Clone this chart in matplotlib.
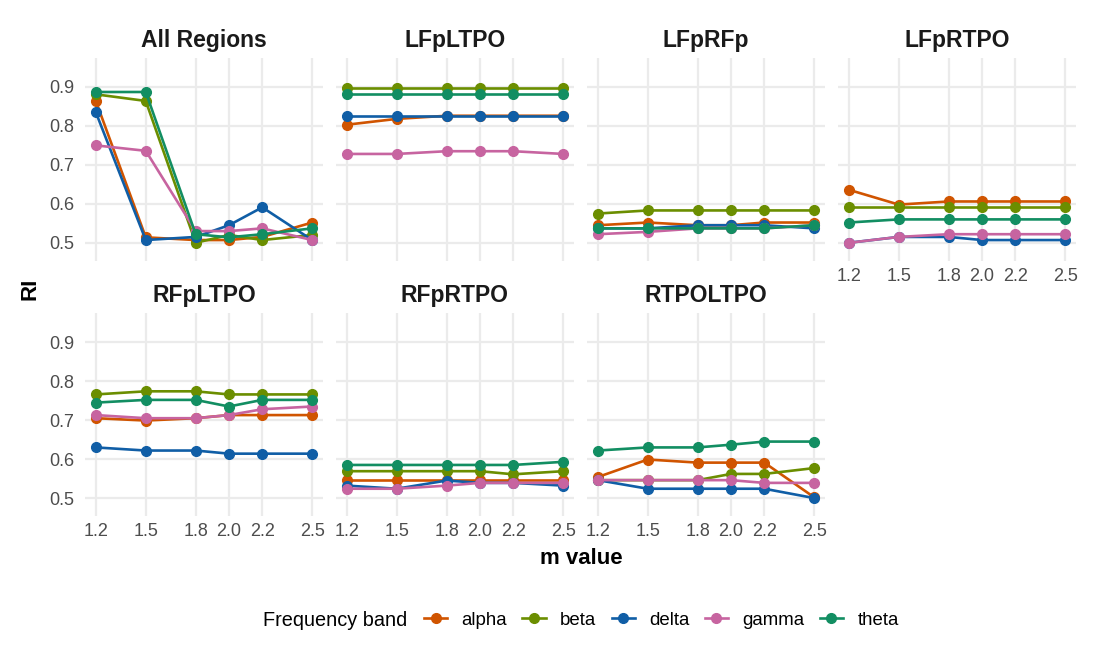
import matplotlib
matplotlib.use("Agg")
import matplotlib.pyplot as plt
from matplotlib.lines import Line2D

plt.rcParams['font.family'] = ['Liberation Sans', 'DejaVu Sans']

m_values = [1.2, 1.5, 1.8, 2.0, 2.2, 2.5]
bands = ["alpha", "beta", "delta", "gamma", "theta"]
colors = {"alpha": "#D05400", "beta": "#6B8E00", "delta": "#105EA6",
          "gamma": "#C764A0", "theta": "#128E62"}

panels = ["All Regions", "LFpLTPO", "LFpRFp", "LFpRTPO", "RFpLTPO", "RFpRTPO", "RTPOLTPO"]

# RI values per panel, per band
all_regions = {
    "alpha": [0.864, 0.514, 0.507, 0.507, 0.515, 0.552],
    "beta":  [0.881, 0.864, 0.500, 0.520, 0.507, 0.520],
    "delta": [0.835, 0.507, 0.515, 0.545, 0.591, 0.507],
    "gamma": [0.750, 0.736, 0.530, 0.530, 0.537, 0.507],
    "theta": [0.887, 0.887, 0.522, 0.514, 0.522, 0.537],
}
lfpltpo = {
    "alpha": [0.803, 0.818, 0.826, 0.826, 0.826, 0.826],
    "beta":  [0.896, 0.896, 0.896, 0.896, 0.896, 0.896],
    "delta": [0.826, 0.826, 0.826, 0.826, 0.826, 0.826],
    "gamma": [0.728, 0.728, 0.735, 0.735, 0.735, 0.728],
    "theta": [0.881, 0.881, 0.881, 0.881, 0.881, 0.881],
}
lfprfp = {
    "alpha": [0.545, 0.552, 0.545, 0.545, 0.552, 0.552],
    "beta":  [0.575, 0.583, 0.583, 0.583, 0.583, 0.583],
    "delta": [0.537, 0.537, 0.545, 0.545, 0.545, 0.537],
    "gamma": [0.522, 0.528, 0.537, 0.537, 0.537, 0.545],
    "theta": [0.537, 0.537, 0.537, 0.537, 0.537, 0.545],
}
lfprtpo = {
    "alpha": [0.636, 0.598, 0.606, 0.606, 0.606, 0.606],
    "beta":  [0.591, 0.591, 0.591, 0.591, 0.591, 0.591],
    "delta": [0.500, 0.515, 0.515, 0.507, 0.507, 0.507],
    "gamma": [0.500, 0.515, 0.522, 0.522, 0.522, 0.522],
    "theta": [0.552, 0.560, 0.560, 0.560, 0.560, 0.560],
}
rfpltpo = {
    "alpha": [0.705, 0.699, 0.705, 0.713, 0.713, 0.713],
    "beta":  [0.766, 0.774, 0.774, 0.766, 0.766, 0.766],
    "delta": [0.630, 0.622, 0.622, 0.614, 0.614, 0.614],
    "gamma": [0.713, 0.705, 0.705, 0.713, 0.728, 0.735],
    "theta": [0.745, 0.752, 0.752, 0.735, 0.752, 0.752],
}
rfprtpo = {
    "alpha": [0.546, 0.546, 0.546, 0.546, 0.546, 0.546],
    "beta":  [0.569, 0.569, 0.569, 0.569, 0.561, 0.569],
    "delta": [0.532, 0.524, 0.545, 0.539, 0.539, 0.532],
    "gamma": [0.524, 0.524, 0.532, 0.539, 0.539, 0.539],
    "theta": [0.585, 0.585, 0.585, 0.585, 0.585, 0.593],
}
rtpoltpo = {
    "alpha": [0.554, 0.599, 0.591, 0.591, 0.591, 0.502],
    "beta":  [0.546, 0.546, 0.546, 0.562, 0.562, 0.577],
    "delta": [0.546, 0.524, 0.524, 0.524, 0.524, 0.500],
    "gamma": [0.546, 0.546, 0.546, 0.546, 0.539, 0.539],
    "theta": [0.622, 0.630, 0.630, 0.637, 0.645, 0.645],
}
panel_data = [all_regions, lfpltpo, lfprfp, lfprtpo, rfpltpo, rfprtpo, rtpoltpo]

W, H = 1100, 660
fig = plt.figure(figsize=(11, 6.6), dpi=100)

lefts = [85, 336, 587, 838]
tops = [57.7, 313]
pw, ph = 238, 203

for i, (name, data) in enumerate(zip(panels, panel_data)):
    r, c = divmod(i, 4)
    ax = fig.add_axes([lefts[c] / W, 1 - (tops[r] + ph) / H, pw / W, ph / H])
    for b in bands:
        ax.plot(m_values, data[b], color=colors[b], lw=1.9, marker="o",
                ms=7, zorder=3)
    ax.set_xlim(1.135, 2.565)
    ax.set_ylim(0.454, 0.975)
    ax.set_xticks(m_values)
    ax.set_xticklabels(["1.2", "1.5", "1.8", "2.0", "2.2", "2.5"])
    ax.set_yticks([0.5, 0.6, 0.7, 0.8, 0.9])
    ax.grid(True, color="#EBEBEB", lw=1.6, zorder=0)
    ax.set_axisbelow(True)
    for s in ax.spines.values():
        s.set_visible(False)
    ax.tick_params(length=0, labelsize=13, labelcolor="#4D4D4D")
    ax.tick_params(axis="y", pad=8)
    ax.tick_params(axis="x", pad=5)
    if c != 0:
        ax.set_yticklabels([])
    if r == 0 and c != 3:
        ax.set_xticklabels([])
    ax.set_title(name, fontsize=16.5, fontweight="bold", pad=8, color="#1A1A1A")

fig.text(30 / W, 1 - 289 / H, "RI", rotation=90, fontsize=16, fontweight="bold",
         ha="center", va="center")
fig.text(581 / W, 1 - 559 / H, "m value", fontsize=16, fontweight="bold",
         ha="center", va="center")

fig.text(263 / W, 1 - 620 / H, "Frequency band", fontsize=14.3, ha="left", va="center")
handles = [Line2D([0], [0], color=colors[b], lw=1.9, marker="o", ms=7) for b in bands]
fig.legend(handles, bands, loc="center left", bbox_to_anchor=(424 / W, 1 - 620 / H),
           ncol=5, frameon=False, fontsize=13.4, handlelength=1.24,
           handletextpad=0.78, columnspacing=0.82, borderaxespad=0, borderpad=0)

fig.savefig("out.png", dpi=100)
